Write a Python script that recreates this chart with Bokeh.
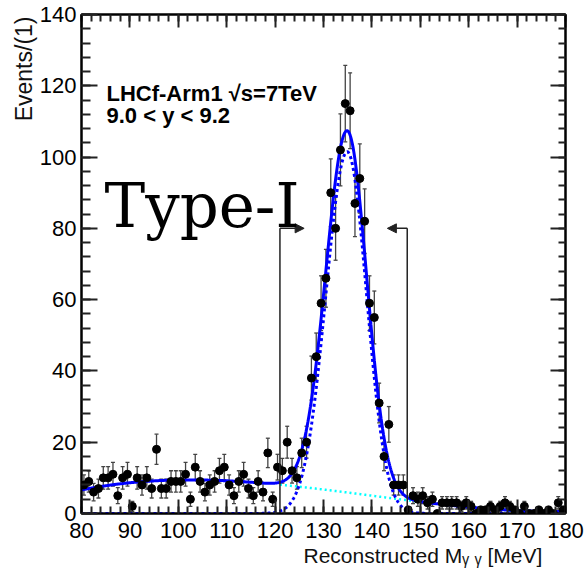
import numpy as np
from bokeh.plotting import figure
from bokeh.models import (ColumnDataSource, Whisker, TeeHead, Arrow, NormalHead, Label, Title,
                          LinearAxis, SingleIntervalTicker, Range1d)
from bokeh.embed import file_html
from bokeh.resources import INLINE

# ---------------- data ----------------
bin_lo, bin_hi, bin_w = 80.0, 180.0, 1.0
counts = [8, 9, 6, 7, 10, 10, 11, 5, 10, 11,
          2, 10, 8, 10, 7, 18, 7, 7, 9, 9,
          9, 11, 4, 13, 9, 6, 8, 9, 12, 13,
          8, 5, 9, 11, 7, 5, 9, 6, 17, 4,
          13, 12, 20, 12, 10, 17, 20, 38, 44, 59,
          66, 90, 80, 102, 115, 113, 87, 94, 82, 59,
          55, 31, 16, 25, 8, 8, 8, 1, 5, 4,
          5, 3, 4, 0, 3, 3, 3, 3, 2, 3,
          2, 0, 1, 1, 2, 1, 2, 3, 2, 1,
          0, 2, 0, 0, 1, 0, 1, 0, 3, 1]
bin_centers = np.arange(bin_lo + bin_w / 2, bin_hi, bin_w)

# fit model parameters (asymmetric gaussian + cubic background)
sig_amp = 101.5
sig_mean = 134.9
sig_sigma_left = 4.4
sig_sigma_right = 4.0
bkg_coef = [6.725, -8.21, -3.125, 5.21]   # polynomial in t = (x - 130) / 50
bkg_center, bkg_scale = 130.0, 50.0

window = [121.0, 147.3]       # fit window marked by arrows
arrow_tips = [126.0, 143.2]
arrow_height = 80

x_ticks_interval, y_ticks_interval = 10, 20

# ---------------- frame geometry ----------------
W, H = 587, 575
L_B, R_B, T_B, B_B = 81, 22, 14, 62
fw, fh = W - L_B - R_B, H - T_B - B_B
xmin, xmax, ymin, ymax = 80, 180, 0, 140


def px_x(px):
    return xmin + (px - L_B) * (xmax - xmin) / fw


def px_y(py):
    return ymin + (T_B + fh - py) * (ymax - ymin) / fh


p = figure(width=W, height=H, output_backend="svg", toolbar_location=None,
           x_range=Range1d(xmin, xmax), y_range=Range1d(ymin, ymax),
           min_border_left=L_B, min_border_right=R_B, min_border_top=T_B, min_border_bottom=B_B,
           background_fill_color="white", border_fill_color="white")
p.xgrid.visible = False
p.ygrid.visible = False
p.outline_line_color = "black"
p.outline_line_width = 2

bottom_ax = p.below[0]
left_ax = p.left[0]
xt = SingleIntervalTicker(interval=x_ticks_interval, num_minor_ticks=5)
yt = SingleIntervalTicker(interval=y_ticks_interval, num_minor_ticks=5)
bottom_ax.ticker = xt
left_ax.ticker = yt
top_ax = LinearAxis(ticker=xt)
right_ax = LinearAxis(ticker=yt)
p.add_layout(top_ax, "above")
p.add_layout(right_ax, "right")


def style(ax, major_in, minor_in, labels, standoff=3):
    ax.major_tick_in = major_in
    ax.major_tick_out = 0
    ax.minor_tick_in = minor_in
    ax.minor_tick_out = 0
    ax.axis_line_width = 2
    ax.axis_line_color = "black"
    ax.major_tick_line_width = 2
    ax.minor_tick_line_width = 2
    ax.major_tick_line_color = "#222222"
    ax.minor_tick_line_color = "#222222"
    if labels:
        ax.major_label_text_font = "Liberation Sans"
        ax.major_label_text_font_size = "22px"
        ax.major_label_text_color = "black"
        ax.major_label_standoff = standoff
    else:
        ax.major_label_text_font_size = "1px"
        ax.major_label_text_color = None
        ax.major_label_standoff = 0


style(bottom_ax, 14, 7, True, 9)
style(left_ax, 16, 9, True, 5)
style(top_ax, 13, 7, False)
style(right_ax, 15, 7, False)

# axis titles (as titles so they can sit outside the frame)
p.add_layout(Title(text="Reconstructed M\u1d67 \u1d67 [MeV]", align="left", offset=222, standoff=2,
                   text_font="Liberation Sans", text_font_size="21px", text_font_style="normal",
                   text_color="#111111"), "below")
p.add_layout(Title(text="Events/(1)", align="right", offset=2, standoff=0,
                   text_font="Liberation Sans", text_font_size="23px", text_font_style="normal",
                   text_color="#111111"), "left")

# ---------------- data points ----------------
counts_arr = np.array(counts, dtype=float)
err = np.sqrt(counts_arr)
nz = counts_arr > 0
err_src = ColumnDataSource(dict(x=bin_centers[nz], lower=(counts_arr - err)[nz],
                                upper=(counts_arr + err)[nz]))
pts_src = ColumnDataSource(dict(x=bin_centers, y=counts_arr))

p.add_layout(Whisker(source=err_src, base="x", lower="lower", upper="upper",
                     line_color="#444444", line_width=1.3,
                     lower_head=TeeHead(size=4, line_color="#444444", line_width=1.3),
                     upper_head=TeeHead(size=4, line_color="#444444", line_width=1.3)))

# ---------------- fit curves ----------------
xf = np.linspace(xmin, xmax, 1001)
sig_w = np.where(xf < sig_mean, sig_sigma_left, sig_sigma_right)
sig = sig_amp * np.exp(-0.5 * ((xf - sig_mean) / sig_w) ** 2)
tt = (xf - bkg_center) / bkg_scale
bkg = sum(c * tt ** i for i, c in enumerate(bkg_coef))
total = sig + bkg
mask = xf >= window[0]

p.line(xf[mask], bkg[mask], line_color="#00ffff", line_width=2.5, line_dash="2 3")
p.line(xf, sig, line_color="#0000ff", line_width=3, line_dash="3 3")
p.line(xf, total, line_color="#0000ff", line_width=3)

p.scatter("x", "y", source=pts_src, size=8, marker="circle", fill_color="black", line_color="black")

# ---------------- window arrows ----------------
p.segment(x0=window, y0=[0, 0], x1=window, y1=[arrow_height, arrow_height],
          line_color="#222222", line_width=1.5)
for xs, xe in zip(window, arrow_tips):
    p.add_layout(Arrow(x_start=xs, y_start=arrow_height, x_end=xe, y_end=arrow_height,
                       line_color="#222222", line_width=1.5,
                       end=NormalHead(size=9, fill_color="#222222", line_color="#222222")))

# ---------------- texts ----------------
p.add_layout(Label(x=px_x(106), y=px_y(93), text="LHCf-Arm1 √s=7TeV",
                   text_font="Liberation Sans", text_font_style="bold", text_font_size="22px",
                   text_align="left", text_baseline="alphabetic", text_color="black"))
p.add_layout(Label(x=px_x(106), y=px_y(115), text="9.0 < y < 9.2",
                   text_font="Liberation Sans", text_font_style="bold", text_font_size="22px",
                   text_align="left", text_baseline="alphabetic", text_color="black"))
p.add_layout(Label(x=px_x(104), y=px_y(205), text="Type-I",
                   text_font="DejaVu Serif", text_font_size="61px",
                   text_align="left", text_baseline="alphabetic", text_color="black"))

open("out.html", "w").write(file_html(p, INLINE))
